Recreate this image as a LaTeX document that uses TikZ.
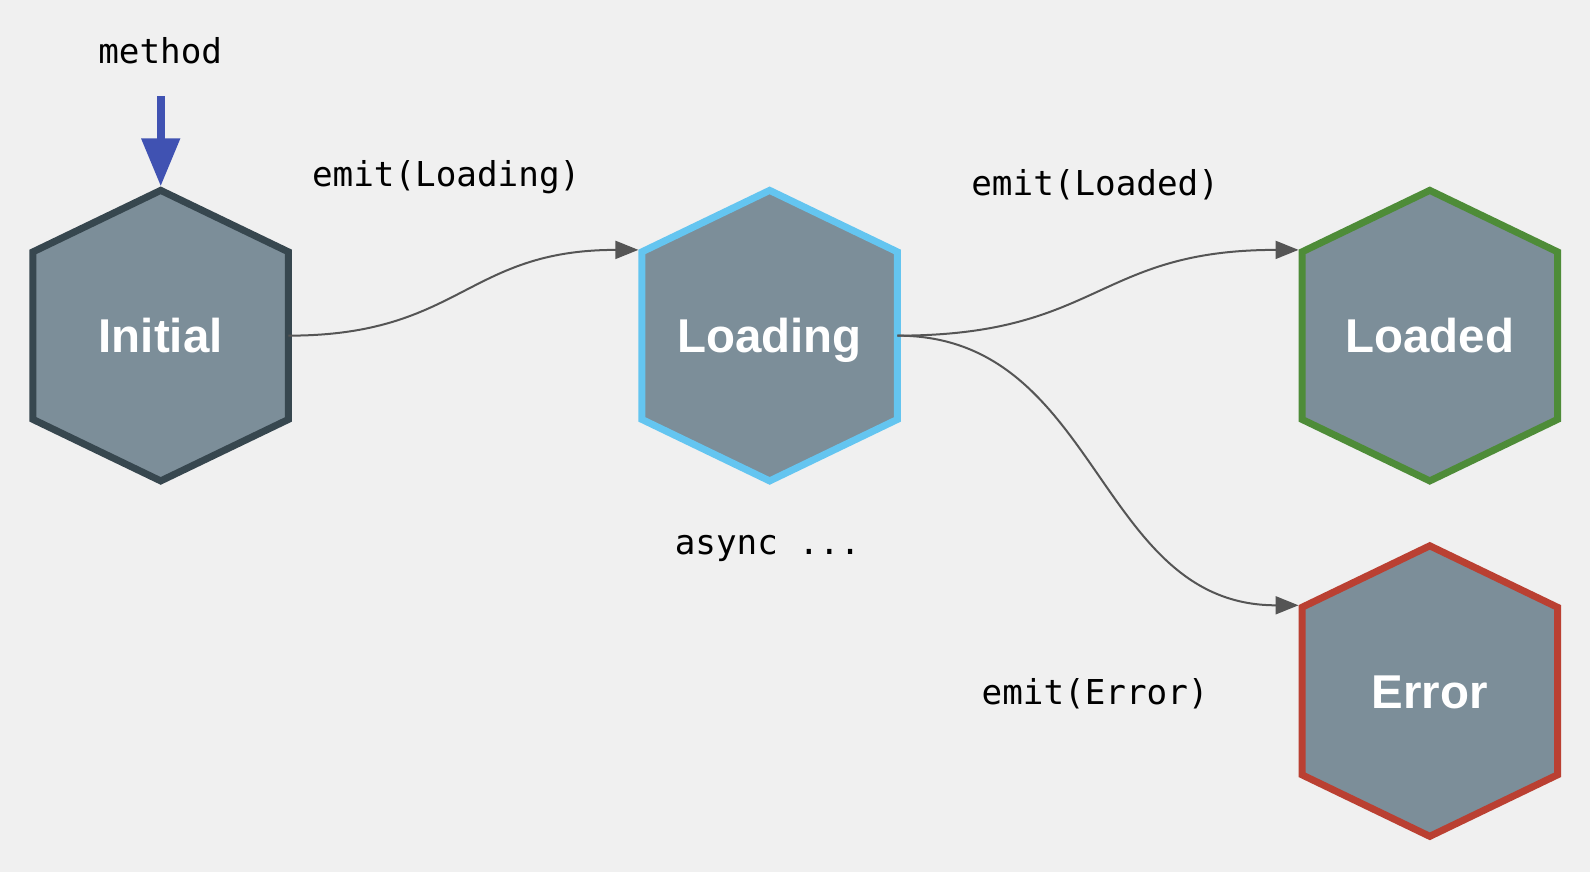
\documentclass[tikz,border=0pt]{standalone}
\usepackage{fontspec}
\setmainfont{Liberation Sans}
\setmonofont{DejaVu Sans Mono}
\usetikzlibrary{arrows.meta}
\definecolor{mybg}{RGB}{240,240,240}
\definecolor{myfill}{RGB}{124,142,153}
\definecolor{myinitial}{RGB}{55,71,79}
\definecolor{myloading}{RGB}{100,197,240}
\definecolor{myloaded}{RGB}{78,140,56}
\definecolor{myerror}{RGB}{186,64,50}
\definecolor{mymethod}{RGB}{64,82,178}
\definecolor{myline}{RGB}{85,85,85}

\def\hexdrop{1.23cm}
% #1 name, #2 centre, #3 border colour, #4 text
\newcommand{\hexstate}[4]{%
    \node[stateframe] (#1) at (#2) {};
    \filldraw[fill=myfill, draw=#3, line width=0.14cm]
        (#1.north)
        -- ([yshift=-\hexdrop]#1.north west)
        -- ([yshift=\hexdrop]#1.south west)
        -- (#1.south)
        -- ([yshift=\hexdrop]#1.south east)
        -- ([yshift=-\hexdrop]#1.north east)
        -- cycle;
    \node[statetext] (#1Text) at (#1) {#4};
    \coordinate (#1In) at ([xshift=-0.07cm, yshift=-1.19cm]#1.north west);
}

\tikzset{
    stateframe/.style={rectangle, minimum width=5.11cm, minimum height=5.81cm,
        inner sep=0pt, outer sep=0pt},
    statetext/.style={inner sep=0pt, text=white, text height=19.4pt, text depth=0pt,
        font=\fontsize{27}{31}\selectfont\bfseries},
    label/.style={font=\ttfamily\fontsize{19.5}{23}\selectfont},
    trans/.style={draw=myline, line width=0.04cm, -{Triangle[length=0.46cm, width=0.36cm]}}
}

\begin{document}
\begin{tikzpicture}[x=0.02028cm, y=-0.02028cm]
    % Background
    \fill[mybg] (0, 0) rectangle (1568, 860);
    \useasboundingbox (0, 0) rectangle (1568, 860);

    % States
    \hexstate{Initial}{158.5, 331}{myinitial}{Initial}
    \hexstate{Loading}{759, 331}{myloading}{Loading}
    \hexstate{Loaded}{1410, 331}{myloaded}{Loaded}
    \hexstate{Error}{1410, 681.5}{myerror}{Error}

    % Entry
    \node[label] (method) at (158, 50) {method};
    \coordinate (MethodTop) at (158.5, 95);
    \draw[mymethod, line width=0.16cm, shorten >=0.08cm,
        -{Triangle[length=0.96cm, width=0.74cm]}] (MethodTop) -- (Initial.north);

    % Transitions
    \draw[trans] (Initial.east)
        .. controls +(170, 0) and +(-170, 0) .. (LoadingIn);
    \draw[trans] (Loading.east)
        .. controls +(200, 0) and +(-200, 0) .. (LoadedIn);
    \draw[trans] (Loading.east)
        .. controls +(200, 0) and +(-200, 0) .. (ErrorIn);

    % Labels
    \node[label] (LblLoading) at (440, 175) {emit(Loading)};
    \node[label] (LblLoaded) at (1080, 182) {emit(Loaded)};
    \node[label] (LblAsync) at (757, 541) {async ...};
    \node[label] (LblError) at (1080, 684) {emit(Error)};
\end{tikzpicture}
\end{document}
